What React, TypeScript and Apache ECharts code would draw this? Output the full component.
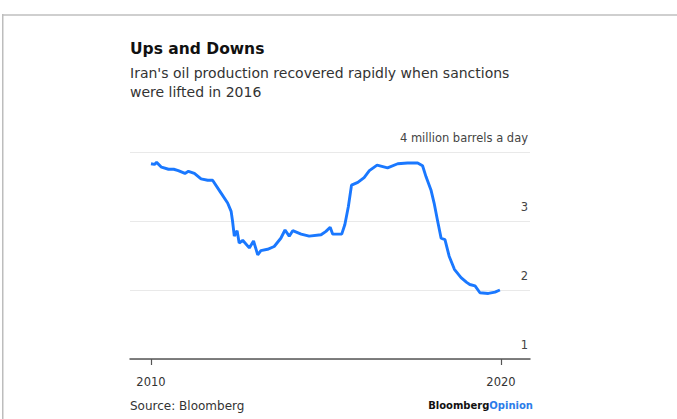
import React, { useEffect, useRef } from "react";
import * as echarts from "echarts";

const years = [
  2010.0, 2010.1, 2010.16, 2010.3, 2010.5, 2010.65, 2010.78, 2010.97, 2011.07, 2011.24,
  2011.43, 2011.62, 2011.76, 2011.97, 2012.19, 2012.29, 2012.33, 2012.38, 2012.46, 2012.52,
  2012.62, 2012.81, 2012.93, 2013.05, 2013.14, 2013.33, 2013.52, 2013.71, 2013.83, 2013.95,
  2014.05, 2014.29, 2014.52, 2014.86, 2015.0, 2015.12, 2015.19, 2015.45, 2015.54, 2015.64,
  2015.73, 2015.91, 2016.09, 2016.24, 2016.46, 2016.76, 2017.05, 2017.33, 2017.62, 2017.76,
  2017.86, 2018.0, 2018.09, 2018.19, 2018.29, 2018.4, 2018.52, 2018.67, 2018.86, 2019.02,
  2019.11, 2019.26, 2019.4, 2019.64, 2019.83, 2019.97,
];
const production = [
  3.83, 3.82, 3.85, 3.78, 3.75, 3.75, 3.73, 3.69, 3.72, 3.69,
  3.61, 3.59, 3.59, 3.43, 3.26, 3.14, 3.0, 2.78, 2.86, 2.68,
  2.72, 2.61, 2.71, 2.51, 2.57, 2.59, 2.63, 2.75, 2.87, 2.78,
  2.86, 2.81, 2.78, 2.8, 2.85, 2.91, 2.81, 2.81, 2.95, 3.21,
  3.52, 3.56, 3.63, 3.73, 3.81, 3.77, 3.83, 3.84, 3.84, 3.8,
  3.64, 3.45, 3.26, 3.0, 2.75, 2.73, 2.49, 2.3, 2.18, 2.11,
  2.08, 2.06, 1.96, 1.95, 1.97, 2.0,
];
const xTicks = [2010, 2020];
const yTicks = [1, 2, 3, 4];
const unitLabel = "4 million barrels a day";
const title = "Ups and Downs";
const subtitle1 = "Iran's oil production recovered rapidly when sanctions";
const subtitle2 = "were lifted in 2016";
const source = "Source: Bloomberg";

const FONT = "'DejaVu Sans', 'Liberation Sans', Arial, sans-serif";

export default function App() {
  const ref = useRef<HTMLDivElement>(null);
  useEffect(() => {
    if (!ref.current) return;
    const chart = echarts.init(ref.current, null, { renderer: "svg" });
    chart.setOption({
      animation: false,
      backgroundColor: "#ffffff",
      textStyle: { fontFamily: FONT },
      grid: { left: 130, right: 147, top: 152, bottom: 60 },
      xAxis: {
        type: "value",
        min: 2009.4,
        max: 2020.83,
        splitLine: { show: false },
        axisLine: { show: true, lineStyle: { color: "#555", width: 1.5 } },
        axisTick: {
          show: true,
          customValues: xTicks,
          length: 6,
          lineStyle: { color: "#555", width: 1.2 },
        },
        axisLabel: {
          customValues: xTicks,
          color: "#333",
          fontSize: 11.5,
          fontFamily: FONT,
          margin: 17,
          formatter: (v: number) => String(Math.round(v)),
        },
      },
      yAxis: {
        type: "value",
        position: "right",
        min: 1,
        max: 4,
        interval: 1,
        axisLine: { show: false },
        axisTick: { show: false },
        splitLine: { show: true, lineStyle: { color: "#e9e9e9", width: 1 } },
        axisLabel: {
          inside: true,
          margin: 2,
          color: "#444",
          fontSize: 11.5,
          fontFamily: FONT,
          verticalAlign: "bottom",
          padding: [0, 0, 8, 0],
          customValues: yTicks,
          formatter: (v: number) => (v === 4 ? unitLabel : String(v)),
        },
      },
      series: [
        {
          type: "line",
          data: years.map((y, i) => [y, production[i]]),
          showSymbol: false,
          smooth: false,
          lineStyle: { color: "#1a78ff", width: 2.9 },
          itemStyle: { color: "#1a78ff" },
        },
      ],
      graphic: [
        { type: "rect", shape: { x: 2, y: 14, width: 675, height: 2 }, style: { fill: "#cfcfcf" } },
        { type: "rect", shape: { x: 2, y: 14, width: 1.5, height: 405 }, style: { fill: "#bdbdbd" } },
        {
          type: "text",
          left: 130,
          top: 41,
          style: { text: title, fontSize: 15.5, fontWeight: "bold", fill: "#111", fontFamily: FONT },
        },
        {
          type: "text",
          left: 130,
          top: 66,
          style: { text: subtitle1, fontSize: 14, fill: "#333", fontFamily: FONT },
        },
        {
          type: "text",
          left: 130,
          top: 85,
          style: { text: subtitle2, fontSize: 14, fill: "#333", fontFamily: FONT },
        },
        {
          type: "text",
          left: 130,
          top: 400,
          style: { text: source, fontSize: 12, fill: "#333", fontFamily: FONT },
        },
        {
          type: "text",
          right: 144,
          top: 400,
          style: {
            text: "{a|Bloomberg}{b|Opinion}",
            fontFamily: FONT,
            rich: {
              a: { fontSize: 10, fontWeight: "bold", fill: "#111", fontFamily: FONT },
              b: { fontSize: 10, fontWeight: "bold", fill: "#2b7ce9", fontFamily: FONT },
            },
          },
        },
      ],
    });
    return () => chart.dispose();
  }, []);
  return (
    <div
      ref={ref}
      style={{ position: "fixed", left: 0, top: 0, width: 677, height: 419 }}
    />
  );
}
